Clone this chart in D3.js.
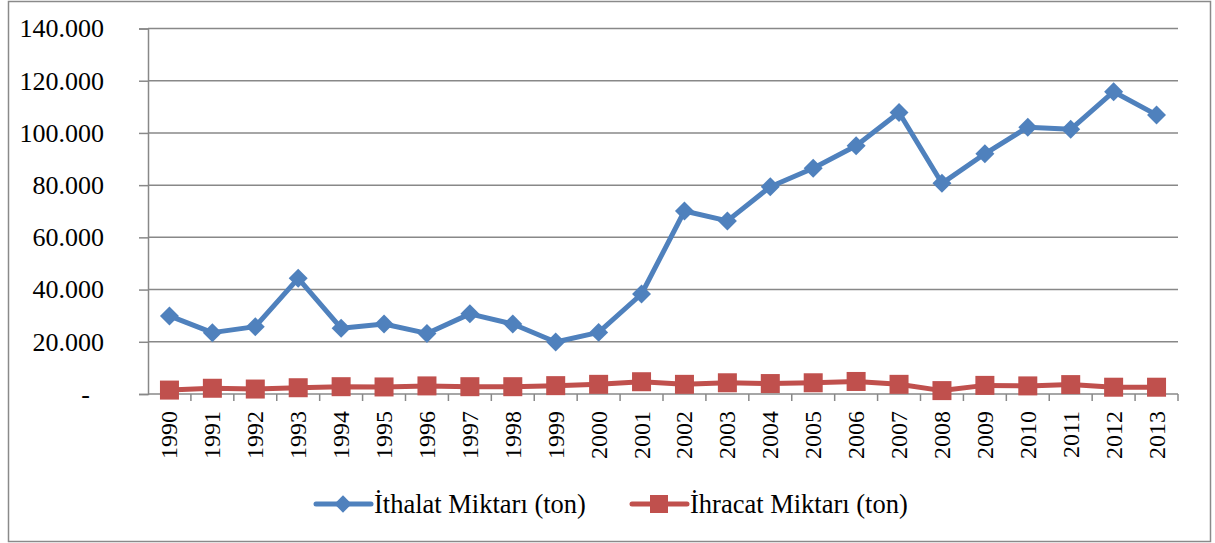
<!DOCTYPE html>
<html>
<head>
<meta charset="utf-8">
<script src="https://cdn.jsdelivr.net/npm/d3@7"></script>
<style>
  body { margin: 0; background: #fff; }
  svg text { font-family: "Liberation Serif", "Times New Roman", Times, serif; fill: #000; }
</style>
</head>
<body>
<svg id="chart" width="1215" height="543"></svg>
<script>
// Data
const years = ["1990","1991","1992","1993","1994","1995","1996","1997","1998","1999","2000","2001",
               "2002","2003","2004","2005","2006","2007","2008","2009","2010","2011","2012","2013"];
const importTons = [29900, 23500, 25800, 44300, 25200, 26800, 23200, 30700, 26800, 19900, 23600, 38300,
                    70100, 66300, 79400, 86500, 95100, 107800, 80700, 92000, 102200, 101400, 115800, 106900];
const exportTons = [1500, 2200, 1900, 2400, 2800, 2700, 3100, 2800, 2800, 3200, 3700, 4700,
                    3700, 4300, 4000, 4300, 4800, 3700, 1300, 3300, 3100, 3600, 2600, 2600];
const yTicks = [0, 20000, 40000, 60000, 80000, 100000, 120000, 140000];
const seriesNames = ["İthalat Miktarı (ton)", "İhracat Miktarı (ton)"];

const blue = "#4f81bd";
const red = "#c0504d";
const gridColor = "#888888";
const serif = '"Liberation Serif", "Times New Roman", Times, serif';

const svg = d3.select('#chart');

// Outer frame
svg.append('rect')
    .attr('x', 8.5).attr('y', 1.5)
    .attr('width', 1202).attr('height', 540)
    .attr('fill', 'none')
    .attr('stroke', '#8a8a8a')
    .attr('stroke-width', 1.5);

// Plot area
const plotLeft = 148, plotRight = 1178, plotTop = 28.5, plotBottom = 394;

const x = d3.scaleBand()
    .domain(years)
    .range([plotLeft, plotRight])
    .paddingInner(0)
    .paddingOuter(0);

const y = d3.scaleLinear()
    .domain([0, 140000])
    .range([plotBottom, plotTop]);

const locale = d3.formatLocale({ decimal: ",", thousands: ".", grouping: [3], currency: ["", ""] });
const fmt = locale.format(",.0f");

// Gridlines
svg.append('g')
    .selectAll('line')
    .data(yTicks.filter(d => d > 0))
    .enter()
    .append('line')
    .attr('x1', plotLeft)
    .attr('x2', plotRight)
    .attr('y1', d => y(d))
    .attr('y2', d => y(d))
    .attr('stroke', gridColor)
    .attr('stroke-width', 1.5);

// Y axis
const yAxis = svg.append('g')
    .attr('transform', `translate(${plotLeft},0)`)
    .call(d3.axisLeft(y)
        .tickValues(yTicks)
        .tickSize(9)
        .tickPadding(35)
        .tickFormat(d => d === 0 ? "-" : fmt(d)));
yAxis.select('.domain').attr('stroke', gridColor).attr('stroke-width', 1.5);
yAxis.selectAll('.tick line').attr('stroke', gridColor).attr('stroke-width', 1.5);
yAxis.selectAll('.tick text')
    .attr('font-size', 26)
    .style('font-family', serif)
    .attr('fill', '#000');
yAxis.selectAll('.tick text').filter(d => d === 0).attr('dx', -14);

// X axis line and boundary ticks
const xAxisG = svg.append('g');
xAxisG.append('line')
    .attr('x1', plotLeft).attr('x2', plotRight)
    .attr('y1', plotBottom).attr('y2', plotBottom)
    .attr('stroke', gridColor)
    .attr('stroke-width', 1.5);
const bounds = years.map(d => x(d)).concat([x(years[years.length - 1]) + x.bandwidth()]);
xAxisG.selectAll('.xtick')
    .data(bounds.slice(1))
    .enter()
    .append('line')
    .attr('x1', d => d).attr('x2', d => d)
    .attr('y1', plotBottom).attr('y2', plotBottom + 7)
    .attr('stroke', gridColor)
    .attr('stroke-width', 1.5);

// Year labels
xAxisG.selectAll('.ylabel')
    .data(years)
    .enter()
    .append('text')
    .attr('transform', d => `translate(${x(d) + x.bandwidth() / 2 + 8},411) rotate(-90)`)
    .attr('text-anchor', 'end')
    .attr('font-size', 24)
    .style('font-family', serif)
    .text(d => d);

const cx = d => x(d) + x.bandwidth() / 2;
const line = d3.line()
    .x(d => cx(d.year))
    .y(d => y(d.value));

const importData = years.map((yr, i) => ({ year: yr, value: importTons[i] }));
const exportData = years.map((yr, i) => ({ year: yr, value: exportTons[i] }));

// Import series
svg.append('path')
    .datum(importData)
    .attr('fill', 'none')
    .attr('stroke', blue)
    .attr('stroke-width', 5)
    .attr('stroke-linejoin', 'round')
    .attr('d', line);
const diamond = d3.symbol().type(d3.symbolSquare).size(180);
svg.append('g').selectAll('path')
    .data(importData)
    .enter()
    .append('path')
    .attr('d', diamond)
    .attr('transform', d => `translate(${cx(d.year)},${y(d.value)}) rotate(45)`)
    .attr('fill', blue);

// Export series
svg.append('path')
    .datum(exportData)
    .attr('fill', 'none')
    .attr('stroke', red)
    .attr('stroke-width', 5)
    .attr('stroke-linejoin', 'round')
    .attr('d', line);
const sq = 19;
svg.append('g').selectAll('rect')
    .data(exportData)
    .enter()
    .append('rect')
    .attr('x', d => cx(d.year) - sq / 2)
    .attr('y', d => y(d.value) - sq / 2)
    .attr('width', sq)
    .attr('height', sq)
    .attr('fill', red);

// Legend
const legendY = 504;
const legend = svg.append('g');
const items = [
    { name: seriesNames[0], color: blue, x0: 316, marker: 'diamond' },
    { name: seriesNames[1], color: red, x0: 632, marker: 'square' }
];
items.forEach(it => {
    legend.append('line')
        .attr('x1', it.x0).attr('x2', it.x0 + 55)
        .attr('y1', legendY).attr('y2', legendY)
        .attr('stroke', it.color)
        .attr('stroke-width', 5)
        .attr('stroke-linecap', 'round');
    if (it.marker === 'diamond') {
        legend.append('path')
            .attr('d', d3.symbol().type(d3.symbolSquare).size(150))
            .attr('transform', `translate(${it.x0 + 27},${legendY}) rotate(45)`)
            .attr('fill', it.color);
    } else {
        legend.append('rect')
            .attr('x', it.x0 + 27 - 9).attr('y', legendY - 9)
            .attr('width', 18).attr('height', 18)
            .attr('fill', it.color);
    }
    legend.append('text')
        .attr('x', it.x0 + 58)
        .attr('y', legendY)
        .attr('dy', '0.35em')
        .attr('font-size', 26.5)
        .style('font-family', serif)
        .text(it.name);
});
</script>
</body>
</html>
